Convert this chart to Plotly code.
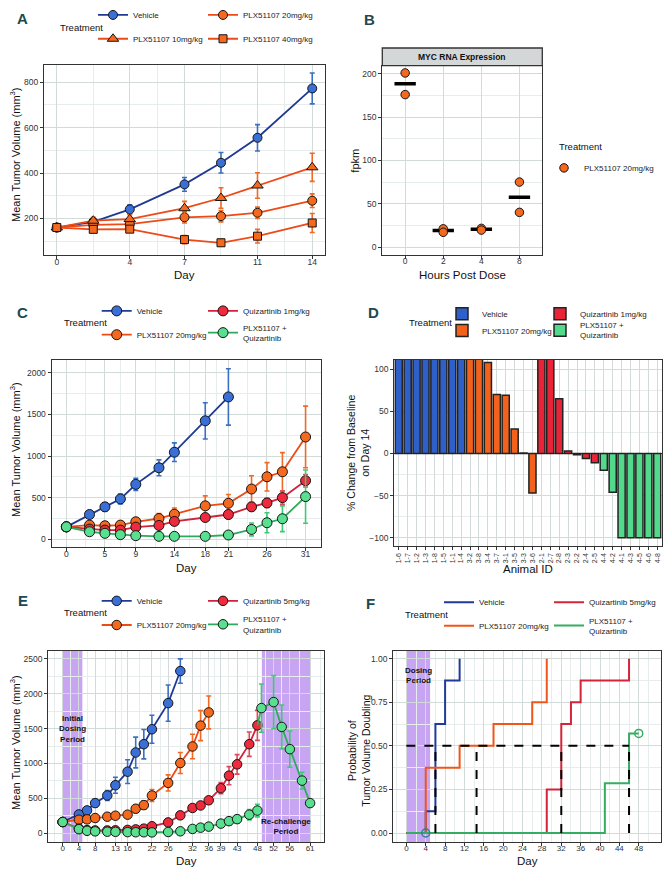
import plotly.graph_objects as go
import numpy as np

W, H = 669, 870
FONT = "Liberation Sans Narrow, Arial Narrow, Liberation Sans, Arial, sans-serif"

# ---------------- Panel A data ----------------
a_days = [0, 2, 4, 7, 9, 11, 14]
a_ticks = [0, 4, 7, 11, 14]
a_vehicle = [160, 185, 240, 350, 445, 555, 772]
a_vehicle_err = [10, 15, 20, 30, 45, 58, 68]
a_plx10 = [160, 190, 197, 245, 290, 345, 425]
a_plx10_err = [10, 15, 20, 30, 45, 56, 62]
a_plx20 = [160, 172, 175, 205, 210, 225, 278]
a_plx20_err = [10, 12, 15, 25, 25, 25, 30]
a_plx40 = [160, 152, 153, 107, 93, 122, 180]
a_plx40_err = [10, 10, 10, 18, 15, 30, 42]

# ---------------- Panel B data ----------------
b_hours = ["0", "2", "4", "8"]
b_rep1 = [201, 21, 21.5, 75]
b_rep2 = [176, 17, 19.5, 40]

# ---------------- Panel C data ----------------
c_ticks = [0, 5, 9, 14, 18, 21, 26, 31]
c_days_vehicle = [0, 3, 5, 7, 9, 12, 14, 18, 21]
c_vehicle = [150, 298, 390, 485, 660, 859, 1046, 1423, 1710]
c_vehicle_err = [12, 25, 48, 60, 72, 95, 112, 218, 338]
c_days = [0, 3, 5, 7, 9, 12, 14, 18, 21, 24, 26, 28, 31]
c_plx20 = [150, 171, 163, 171, 211, 250, 302, 402, 433, 604, 751, 811, 1229]
c_plx20_err = [12, 30, 30, 30, 45, 60, 75, 120, 105, 160, 170, 230, 370]
c_quiz1 = [150, 123, 111, 111, 147, 167, 215, 262, 298, 390, 437, 501, 704]
c_quiz1_err = [12, 25, 25, 25, 25, 30, 40, 45, 50, 50, 55, 80, 75]
c_combo = [150, 91, 72, 56, 44, 36, 36, 36, 52, 119, 199, 247, 513]
c_combo_err = [12, 15, 12, 10, 10, 10, 10, 10, 15, 77, 120, 155, 320]

# ---------------- Panel D data ----------------
d_ids_vehicle = ["1-6", "1-7", "1-2", "1-3", "1-8", "1-5", "1-1", "1-4"]
d_vehicle = [420, 390, 360, 330, 300, 270, 240, 210]
d_ids_plx = ["3-2", "3-8", "3-4", "3-7", "3-1", "3-5", "3-3", "3-6"]
d_plx = [180, 140, 108, 70, 69, 29, 0.5, -47]
d_ids_quiz = ["2-1", "2-7", "2-8", "2-3", "2-2", "2-4", "2-5"]
d_quiz = [200, 150, 65, 3, -1.5, -6, -11]
d_ids_combo = ["4-4", "4-2", "4-1", "4-3", "4-5", "4-6", "4-8"]
d_combo = [-20, -46, -100, -100, -100, -100, -100]

# ---------------- Panel E data ----------------
e_ticks = [0, 4, 8, 13, 16, 22, 26, 32, 36, 39, 43, 48, 52, 56, 61]
e_days_vehicle = [0, 4, 6, 8, 11, 13, 16, 18, 20, 22, 26, 29]
e_vehicle = [161, 270, 327, 432, 541, 688, 882, 1157, 1276, 1490, 1864, 2324]
e_vehicle_err = [10, 25, 30, 50, 70, 115, 170, 220, 210, 200, 260, 175]
e_days_plx = [0, 4, 6, 8, 11, 13, 16, 18, 20, 22, 26, 29, 32, 34, 36]
e_plx20 = [161, 194, 199, 218, 237, 251, 266, 351, 403, 541, 721, 1006, 1243, 1542, 1731]
e_plx20_err = [10, 25, 25, 30, 30, 30, 40, 55, 60, 85, 115, 150, 175, 215, 235]
e_days = [0, 4, 6, 8, 11, 13, 16, 18, 20, 22, 26, 29, 32, 34, 36, 39, 41, 43, 46, 48]
e_quiz5 = [161, 65, 45, 40, 40, 42, 48, 55, 66, 100, 155, 256, 362, 398, 472, 645, 825, 987, 1276, 1546]
e_quiz5_err = [10, 15, 12, 12, 12, 12, 15, 20, 25, 25, 25, 25, 35, 35, 50, 80, 130, 140, 175, 215]
e_combo = [161, 58, 35, 27, 22, 20, 16, 14, 14, 12, 18, 28, 62, 80, 95, 138, 173, 202, 266, 325]
e_combo_err = [10, 10, 8, 8, 8, 8, 8, 8, 8, 8, 8, 10, 20, 25, 25, 30, 50, 55, 75, 90]
e_days_rechallenge = [49, 52, 54, 56, 59, 61]
e_rechallenge = [1793, 1879, 1523, 1205, 754, 432]
e_rechallenge_err = [345, 380, 315, 260, 120, 45]
e_initial_period = [0, 4.85]
e_rechallenge_period = [49.1, 61]

# ---------------- Panel F data ----------------
f_ticks = list(range(0, 49, 4))
f_vehicle_t = [0, 4, 6, 8, 11]
f_vehicle_p = [0, 0.125, 0.625, 0.875, 1.0]
f_plx_t = [0, 4, 11, 18, 26, 29]
f_plx_p = [0, 0.375, 0.5, 0.625, 0.75, 1.0]
f_quiz_t = [0, 29, 32, 34, 36, 46]
f_quiz_p = [0, 0.25, 0.625, 0.75, 0.875, 1.0]
f_combo_t = [0, 41, 46, 48]
f_combo_p = [0, 0.2857, 0.5714, 0.5714]
f_censor_t = [4, 48]
f_censor_p = [0, 0.5714]
f_median_level = 0.5
f_medians = [6, 14.5, 32, 46]
f_dosing_period = [0, 4.9]

# ---------------- styles ----------------
BLUE_LINE, BLUE_FILL, BLUE_ERR = "#1f3a93", "#3a6fd8", "#3b6fc2"
OR_LINE, OR_FILL, OR_ERR = "#ec4a17", "#f4691e", "#f06a26"
RED_LINE, RED_FILL, RED_ERR = "#d1223a", "#ee2a3c", "#dd4a5c"
GR_LINE, GR_FILL, GR_ERR = "#2eaa5a", "#58e090", "#3ccb72"
PURPLE = "#c8a5f2"
FRAME = "#333333"
GRID = "#d3dada"
GRID_MINOR = "#e7ecec"
EDGE = "#151515"
TICK_SIZE = 8.5
LEG_SIZE = 8


def px(x):
    return x / W


def py(y):
    return 1 - y / H


def mids(t, lo, hi):
    m = [(a + b) / 2 for a, b in zip(t[:-1], t[1:])]
    step0 = t[1] - t[0]
    step1 = t[-1] - t[-2]
    extra = [t[0] - step0 / 2, t[-1] + step1 / 2]
    return [v for v in m + extra if lo < v < hi]


def xax(dom, rng, tickvals, ticktext=None, minor=None, **kw):
    d = dict(domain=[px(dom[0]), px(dom[1])], range=rng, tickmode="array",
             tickvals=tickvals, showline=True, mirror=True, linecolor=FRAME,
             linewidth=1.3, ticks="outside", ticklen=3, tickcolor=FRAME,
             tickwidth=1, showgrid=True, gridcolor=GRID, gridwidth=1,
             zeroline=False, automargin=False, fixedrange=True, tickangle=0,
             ticklabelstandoff=-5,
             tickfont=dict(family=FONT, size=TICK_SIZE, color="#333"))
    if ticktext is not None:
        d["ticktext"] = ticktext
    if minor is not None:
        d["minor"] = dict(tickmode="array", tickvals=minor, showgrid=True,
                          gridcolor=GRID_MINOR, gridwidth=0.7, ticks="")
    d.update(kw)
    return d


def yax(dom, rng, tickvals, ticktext=None, minor=None, **kw):
    d = xax((0, 1), rng, tickvals, ticktext, minor, **kw)
    d["domain"] = [py(dom[1]), py(dom[0])]
    d["ticklabelstandoff"] = kw.get("ticklabelstandoff", 0)
    return d


fig = go.Figure()

legend_layouts = {}
legend_counter = [0]


def new_legend(text_x, y_center, size=LEG_SIZE):
    legend_counter[0] += 1
    name = "legend" if legend_counter[0] == 1 else "legend%d" % legend_counter[0]
    legend_layouts[name] = dict(
        x=px(text_x - 40), y=py(y_center), xanchor="left", yanchor="middle",
        orientation="v", bgcolor="rgba(0,0,0,0)", borderwidth=0,
        font=dict(family=FONT, size=size, color="#222"),
        itemclick=False, itemdoubleclick=False, tracegroupgap=0)
    return name


def line_trace(x, y, err, name, line, fill, errc, symbol, size, xa, ya, leg):
    return go.Scatter(
        x=x, y=y, mode="lines+markers", name=name,
        line=dict(color=line, width=1.8),
        marker=dict(color=fill, size=size, symbol=symbol,
                    line=dict(color=EDGE, width=1)),
        error_y=dict(type="data", array=err, color=errc, thickness=1.6, width=2.5),
        xaxis=xa, yaxis=ya, legend=leg, showlegend=leg is not None)


# ---------------- Panel A ----------------
A_X, A_Y = (44, 325), (59, 251)
fig.add_trace(line_trace(a_days, a_vehicle, a_vehicle_err, "Vehicle", BLUE_LINE, BLUE_FILL, BLUE_ERR, "circle", 9, "x", "y", new_legend(133, 9)))
fig.add_trace(line_trace(a_days, a_plx20, a_plx20_err, "PLX51107 20mg/kg", OR_LINE, OR_FILL, OR_ERR, "circle", 9, "x", "y", new_legend(243, 9)))
fig.add_trace(line_trace(a_days, a_plx10, a_plx10_err, "PLX51107 10mg/kg", OR_LINE, OR_FILL, OR_ERR, "triangle-up", 10, "x", "y", new_legend(133, 33)))
fig.add_trace(line_trace(a_days, a_plx40, a_plx40_err, "PLX51107 40mg/kg", OR_LINE, OR_FILL, OR_ERR, "square", 8, "x", "y", new_legend(243, 33)))

# ---------------- Panel B ----------------
B_X, B_Y = (382.3, 542.3), (60, 250.7)
b_idx = list(range(len(b_hours)))
b_mean = [(a + b) / 2 for a, b in zip(b_rep1, b_rep2)]
bx, by = [], []
for i, m in zip(b_idx, b_mean):
    bx += [i - 0.28, i + 0.28, None]
    by += [m, m, None]
fig.add_trace(go.Scatter(x=bx, y=by, mode="lines", line=dict(color="black", width=3.5),
                         xaxis="x2", yaxis="y2", showlegend=False, hoverinfo="skip"))
fig.add_trace(go.Scatter(x=b_idx + b_idx, y=b_rep1 + b_rep2, mode="markers",
                         name="PLX51107 20mg/kg",
                         marker=dict(color=OR_FILL, size=8.5, line=dict(color=EDGE, width=1)),
                         xaxis="x2", yaxis="y2", legend=new_legend(584, 163), showlegend=True))

# ---------------- Panel C ----------------
C_X, C_Y = (51.7, 321), (356, 545)
fig.add_trace(line_trace(c_days_vehicle, c_vehicle, c_vehicle_err, "Vehicle", BLUE_LINE, BLUE_FILL, BLUE_ERR, "circle", 10, "x3", "y3", new_legend(136.7, 307)))
fig.add_trace(line_trace(c_days, c_plx20, c_plx20_err, "PLX51107 20mg/kg", OR_LINE, OR_FILL, OR_ERR, "circle", 10, "x3", "y3", new_legend(136.7, 331)))
fig.add_trace(line_trace(c_days, c_quiz1, c_quiz1_err, "Quizartinib 1mg/kg", RED_LINE, RED_FILL, RED_ERR, "circle", 10, "x3", "y3", new_legend(243, 307)))
fig.add_trace(line_trace(c_days, c_combo, c_combo_err, "PLX51107 +<br>Quizartinib", GR_LINE, GR_FILL, GR_ERR, "circle", 10, "x3", "y3", new_legend(243, 329)))

# ---------------- Panel D ----------------
D_X, D_Y = (394.3, 661.7), (356, 544)
d_all_ids = d_ids_vehicle + d_ids_plx + d_ids_quiz + d_ids_combo
for ids, vals, col, name, lx, ly in [
        (d_ids_vehicle, d_vehicle, "#2f5fc8", "Vehicle", 482, 310),
        (d_ids_plx, d_plx, "#f2621d", "PLX51107 20mg/kg", 482, 326.7),
        (d_ids_quiz, d_quiz, "#ea2438", "Quizartinib 1mg/kg", 580, 310),
        (d_ids_combo, d_combo, "#52d98c", "PLX51107 +<br>Quizartinib", 580, 326.5)]:
    fig.add_trace(go.Bar(x=ids, y=vals, name=name, marker=dict(color=col, line=dict(color="#222", width=1.5)),
                         xaxis="x4", yaxis="y4", legend=new_legend(lx, ly), showlegend=True))

# ---------------- Panel E ----------------
E_X, E_Y = (48.3, 324.3), (649, 841.7)
fig.add_trace(line_trace(e_days_vehicle, e_vehicle, e_vehicle_err, "Vehicle", BLUE_LINE, BLUE_FILL, BLUE_ERR, "circle", 9.5, "x5", "y5", new_legend(136.7, 599)))
fig.add_trace(line_trace(e_days_plx, e_plx20, e_plx20_err, "PLX51107 20mg/kg", OR_LINE, OR_FILL, OR_ERR, "circle", 9.5, "x5", "y5", new_legend(136.7, 623.3)))
fig.add_trace(line_trace(e_days, e_quiz5, e_quiz5_err, "Quizartinib 5mg/kg", RED_LINE, RED_FILL, RED_ERR, "circle", 9.5, "x5", "y5", new_legend(243, 599)))
fig.add_trace(line_trace(e_days, e_combo, e_combo_err, "PLX51107 +<br>Quizartinib", GR_LINE, GR_FILL, GR_ERR, "circle", 9.5, "x5", "y5", new_legend(243, 622.7)))
fig.add_trace(go.Scatter(x=[e_days[-1], e_days_rechallenge[0]], y=[e_quiz5[-1], e_rechallenge[0]],
                         mode="lines", line=dict(color=GR_LINE, width=1.8),
                         xaxis="x5", yaxis="y5", showlegend=False, hoverinfo="skip"))
fig.add_trace(line_trace(e_days_rechallenge, e_rechallenge, e_rechallenge_err, "Re-challenge", GR_LINE, GR_FILL, GR_ERR, "circle", 9.5, "x5", "y5", None))

# ---------------- Panel F ----------------
F_X, F_Y = (393.3, 661), (649, 841.7)
for t, p, col, name, lx, ly in [
        (f_vehicle_t, f_vehicle_p, "#1f3a9a", "Vehicle", 479, 600.3),
        (f_plx_t, f_plx_p, "#f0561a", "PLX51107 20mg/kg", 479, 624),
        (f_quiz_t, f_quiz_p, "#d4243a", "Quizartinib 5mg/kg", 589, 600.3),
        (f_combo_t, f_combo_p, "#34ad62", "PLX51107 +<br>Quizartinib", 589, 624)]:
    fig.add_trace(go.Scatter(x=t, y=p, mode="lines", line=dict(color=col, width=2, shape="hv"),
                             name=name, xaxis="x6", yaxis="y6", legend=new_legend(lx, ly), showlegend=True))
mx, my = [0, max(f_medians), None], [f_median_level, f_median_level, None]
for m in f_medians:
    mx += [m, m, None]
    my += [0, f_median_level, None]
fig.add_trace(go.Scatter(x=mx, y=my, mode="lines", line=dict(color="black", width=2, dash="dash"),
                         xaxis="x6", yaxis="y6", showlegend=False, hoverinfo="skip"))
fig.add_trace(go.Scatter(x=f_censor_t, y=f_censor_p, mode="markers",
                         marker=dict(symbol="circle-open", size=8, color=["#2f7f95", "#34ad62"],
                                     line=dict(width=1.5)),
                         xaxis="x6", yaxis="y6", showlegend=False, hoverinfo="skip"))

# ---------------- axes ----------------
lay = dict(
    width=W, height=H, margin=dict(l=0, r=0, t=0, b=0),
    paper_bgcolor="white", plot_bgcolor="white",
    font=dict(family=FONT, size=10, color="#111"),
    barmode="overlay", bargap=0.2, hovermode=False,
)
lay["xaxis"] = xax(A_X, [-0.7, 14.7], a_ticks, minor=mids(a_ticks, -0.7, 14.7), anchor="y")
lay["yaxis"] = yax(A_Y, [38, 877], [200, 400, 600, 800], minor=[100, 300, 500, 700], anchor="x")
lay["xaxis2"] = xax(B_X, [-0.6, 3.6], b_idx, ticktext=b_hours, anchor="y2")
lay["yaxis2"] = yax(B_Y, [-9.2, 209.5], [0, 50, 100, 150, 200], minor=[25, 75, 125, 175], anchor="x2")
lay["xaxis3"] = xax(C_X, [-1.9, 33.0], c_ticks, minor=mids(c_ticks, -1.9, 33.0), anchor="y3")
lay["yaxis3"] = yax(C_Y, [-95, 2159], [0, 500, 1000, 1500, 2000], minor=[250, 750, 1250, 1750], anchor="x3")
lay["xaxis4"] = xax(D_X, [-0.5, len(d_all_ids) - 0.5], d_all_ids, anchor="y4", type="category",
                    categoryorder="array", categoryarray=d_all_ids, tickangle=-90, ticklabelstandoff=0,
                    tickfont=dict(family=FONT, size=7, color="#333"))
lay["yaxis4"] = yax(D_Y, [-110, 111.4], [-100, -50, 0, 50, 100], minor=[-75, -25, 25, 75], anchor="x4",
                    zeroline=True, zerolinecolor="#222", zerolinewidth=1.3)
lay["xaxis5"] = xax(E_X, [-3.55, 64.5], e_ticks, minor=mids(e_ticks, -3.55, 64.5), anchor="y5",
                    tickfont=dict(family=FONT, size=8, color="#333"))
lay["yaxis5"] = yax(E_Y, [-124, 2618], [0, 500, 1000, 1500, 2000, 2500], minor=[250, 750, 1250, 1750, 2250], anchor="x5")
lay["xaxis6"] = xax(F_X, [-2.7, 52.6], f_ticks, minor=mids(f_ticks, -2.7, 52.6), anchor="y6",
                    tickfont=dict(family=FONT, size=8, color="#333"))
lay["yaxis6"] = yax(F_Y, [-0.051, 1.047], [0, 0.25, 0.5, 0.75, 1.0],
                    ticktext=["0.00", "0.25", "0.50", "0.75", "1.00"], minor=[0.125, 0.375, 0.625, 0.875], anchor="x6")
lay.update(legend_layouts)

shapes = []
for rng in [e_initial_period, e_rechallenge_period]:
    shapes.append(dict(type="rect", xref="x5", yref="y5 domain", x0=rng[0], x1=rng[1], y0=0, y1=1,
                       fillcolor=PURPLE, line=dict(width=0), layer="below"))
shapes.append(dict(type="rect", xref="x6", yref="y6 domain", x0=f_dosing_period[0], x1=f_dosing_period[1],
                   y0=0, y1=1, fillcolor=PURPLE, line=dict(width=0), layer="below"))
# facet strip for panel B
shapes.append(dict(type="rect", xref="paper", yref="paper", x0=px(B_X[0]), x1=px(B_X[1]),
                   y0=py(60), y1=py(42.3), fillcolor="#d4d7d7", line=dict(color=FRAME, width=1.3)))
lay["shapes"] = shapes

ann = []


def text(x, y, s, size=10, bold=False, angle=0, xanchor="center", color="#111"):
    ann.append(dict(x=px(x), y=py(y), xref="paper", yref="paper", text=("<b>%s</b>" % s) if bold else s,
                    showarrow=False, textangle=angle, xanchor=xanchor, yanchor="middle",
                    font=dict(family=FONT, size=size, color=color)))


LET = "#1d4a4f"
for L, x, y in [("A", 22, 13), ("B", 369.3, 13.3), ("C", 22, 308.3), ("D", 373.3, 309), ("E", 22.7, 599), ("F", 370, 601.7)]:
    text(x, y, L, size=15, bold=True, color=LET)

for x, y in [(58, 21.3), (61.7, 319), (407, 319), (61.7, 610.7), (403.3, 612.3)]:
    text(x, y, "Treatment", size=9.5, xanchor="left")
text(557.3, 141.3, "Treatment", size=9.5, xanchor="left")

ytitle = "Mean Tumor Volume (mm<sup>3</sup>)"
text(15, 150, ytitle, size=11, angle=-90)
text(15, 447, ytitle, size=11, angle=-90)
text(15, 742, ytitle, size=11, angle=-90)
text(355, 155.7, "fpkm", size=11, angle=-90)
text(358, 450, "% Change from Baseline<br>on Day 14", size=10.5, angle=-90)
text(359, 750, "Probability of<br>Tumor Volume Doubling", size=10.5, angle=-90)

text(sum(A_X) / 2, 271, "Day", size=11.5)
text(sum(B_X) / 2, 271, "Hours Post Dose", size=11.5)
text(sum(C_X) / 2, 566, "Day", size=11.5)
text(sum(D_X) / 2, 567, "Animal ID", size=11.5)
text(sum(E_X) / 2, 861, "Day", size=11.5)
text(sum(F_X) / 2, 861, "Day", size=11.5)

text(sum(B_X) / 2, 51.2, "MYC RNA Expression", size=8.5, bold=True)

ann.append(dict(x=sum(e_initial_period) / 2, y=1500, xref="x5", yref="y5", text="<b>Initial<br>Dosing<br>Period</b>",
                showarrow=False, font=dict(family=FONT, size=8, color="#111")))
ann.append(dict(x=sum(e_rechallenge_period) / 2, y=90, xref="x5", yref="y5", text="<b>Re-challenge<br>Period</b>",
                showarrow=False, font=dict(family=FONT, size=8, color="#111")))
ann.append(dict(x=sum(f_dosing_period) / 2, y=0.905, xref="x6", yref="y6", text="<b>Dosing<br>Period</b>",
                showarrow=False, font=dict(family=FONT, size=8, color="#111")))
lay["annotations"] = ann

fig.update_layout(**lay)
fig.write_html("out.html", config={"displayModeBar": False},
               post_script="document.body.style.margin='0';document.body.style.overflow='hidden';")
